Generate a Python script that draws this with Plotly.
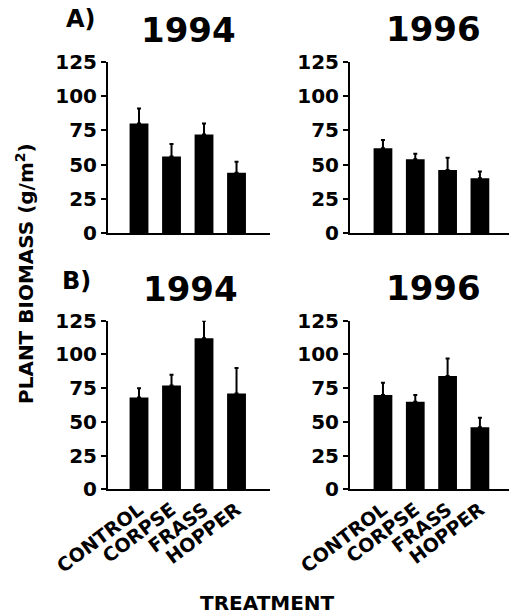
import plotly.graph_objects as go

treatments = ["CONTROL", "CORPSE", "FRASS", "HOPPER"]

# panel A (1994, 1996) and panel B (1994, 1996): means and upper error bar tops
a1994_mean = [80, 56, 72, 44]
a1994_top = [91, 65, 80, 52]
a1996_mean = [62, 54, 46, 40]
a1996_top = [68, 58, 55, 45]
b1994_mean = [68, 77, 112, 71]
b1994_top = [75, 85, 125, 90]
b1996_mean = [70, 65, 84, 46]
b1996_top = [79, 70, 97, 53]

y_ticks = [0, 25, 50, 75, 100, 125]

W, H = 509, 615
FONT = "DejaVu Sans"

panels = [
    (a1994_mean, a1994_top, "x", "y"),
    (a1996_mean, a1996_top, "x2", "y2"),
    (b1994_mean, b1994_top, "x3", "y3"),
    (b1996_mean, b1996_top, "x4", "y4"),
]

fig = go.Figure()
for mean, top, xa, ya in panels:
    fig.add_trace(go.Bar(
        x=treatments, y=mean, xaxis=xa, yaxis=ya,
        marker=dict(color="black", line=dict(width=0)),
        width=0.58,
        error_y=dict(type="data", symmetric=False,
                     array=[t - m for t, m in zip(top, mean)],
                     arrayminus=[0] * len(mean),
                     color="black", thickness=2, width=2),
        showlegend=False,
    ))

def px_x(p):
    return p / W

def px_y(p):
    return 1 - p / H

left_dom = [px_x(108), px_x(270)]
right_dom = [px_x(350), px_x(509)]
top_dom = [px_y(233), px_y(62)]
bot_dom = [px_y(489.3), px_y(320.7)]

def xax(dom, rng, anchor, labels):
    return dict(domain=dom, range=rng, anchor=anchor, type="category",
                automargin=False,
                showline=True, linecolor="black", linewidth=2,
                ticks="", showgrid=False, zeroline=False,
                showticklabels=labels, tickangle=-37,
                tickfont=dict(family=FONT, size=19, color="black", weight="bold"))

def yax(dom, anchor):
    return dict(domain=dom, range=[0, 125], anchor=anchor, automargin=False,
                tickvals=y_ticks, ticktext=[str(v) for v in y_ticks],
                showline=True, linecolor="black", linewidth=2,
                ticks="outside", ticklen=5, tickwidth=2, tickcolor="black",
                showgrid=False, zeroline=False,
                tickfont=dict(family=FONT, size=20, color="black", weight="bold"))

fig.update_layout(
    width=W, height=H, autosize=False,
    margin=dict(l=0, r=0, t=0, b=0, pad=0, autoexpand=False),
    paper_bgcolor="white", plot_bgcolor="white",
    bargap=0.4,
    xaxis=xax(left_dom, [-0.954, 4.03], "y", False),
    yaxis=yax(top_dom, "x"),
    xaxis2=xax(right_dom, [-1.02, 3.9], "y2", False),
    yaxis2=yax(top_dom, "x2"),
    xaxis3=xax(left_dom, [-0.954, 4.03], "y3", True),
    yaxis3=yax(bot_dom, "x3"),
    xaxis4=xax(right_dom, [-1.02, 3.9], "y4", True),
    yaxis4=yax(bot_dom, "x4"),
)

def ann(text, x, y, size, angle=0):
    fig.add_annotation(text=text, x=px_x(x), y=px_y(y), xref="paper", yref="paper",
                       showarrow=False, xanchor="center", yanchor="middle",
                       textangle=angle,
                       font=dict(family=FONT, size=size, color="black", weight="bold"))

ann("1994", 188, 30, 34)
ann("1996", 433, 29, 34)
ann("1994", 190, 289, 34)
ann("1996", 433, 288, 34)
ann("A)", 81, 19, 24)
ann("B)", 76, 281, 24)
ann("PLANT BIOMASS (g/m<sup>2</sup>)", 25, 274, 20, -90)
ann("TREATMENT", 267, 603, 20)

fig.write_html("out.html")
